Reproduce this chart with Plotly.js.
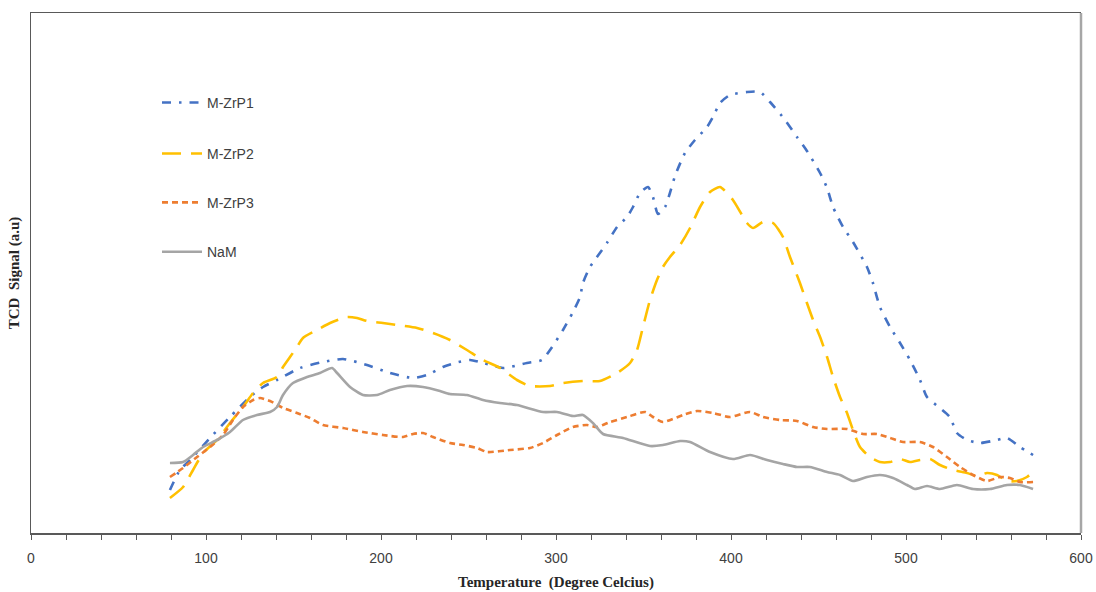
<!DOCTYPE html>
<html>
<head>
<meta charset="utf-8">
<script src="https://cdn.plot.ly/plotly-3.0.1.min.js"></script>
<style>html,body{margin:0;padding:0;background:#fff;}#chart{width:1096px;height:592px;}</style>
</head>
<body>
<div id="chart"></div>
<script>
// Temperature (°C) and TCD signal (a.u.)
const seriesNames = ["M-ZrP1", "M-ZrP2", "M-ZrP3", "NaM"];

const tempP1 = [79.4,85.1,90.9,102.3,113.7,125.1,132.6,140.6,153.7,166.9,178.3,192,205.1,218.3,226.3,235.4,242.3,250.9,258.3,269.7,283.4,292,296.6,304,309.7,313.7,315.4,319.4,323.4,329.1,334.9,340.6,344,348,352.6,355.4,358.3,362.3,365.1,368,373.7,379.4,386.3,389.7,393.7,399.4,409.1,416.6,422.3,430.9,437.7,443.4,450.9,454.9,458.3,464,469.7,477.7,481.1,485.1,490.9,496.6,502.3,508,512,519.4,525.1,529.1,534.9,542.3,552,557.7,565.1,572.6];
const signalP1 = [43,63,73,95,116,136,146,153,165,171,174,168,160,155,158,166,170,173,170,165,170,173,183,203,221,236,250,266,276,290,306,316,326,340,346,336,319,326,340,357,380,393,406,416,430,438,441,441,431,413,396,382,360,345,326,306,291,266,250,226,206,190,173,153,136,125,116,100,93,90,93,95,86,78];

const tempP2 = [79.4,86.9,92.6,98.3,106.3,113.7,121.1,126.9,132.6,140.6,144,148,152,155.4,163.4,170.9,180.6,186.3,192,201.1,209.1,220.6,229.7,239.4,249.1,258.3,268,277.7,285.1,296.6,304,315.4,325.1,334.9,342.3,346.3,349.7,353.7,357.7,361.1,365.1,370.9,376.6,382.3,388,393.7,401.1,409.1,412.6,418.3,424,429.7,433.7,439.4,443.4,446.9,450.9,454.9,458.3,462.3,466.3,469.7,473.7,479.4,485.1,490.9,496.6,502.3,508,513.7,519.4,526.9,534.9,540.6,546.3,552,557.7,563.4,569.1,572.6];
const signalP2 = [35,46,63,80,93,110,126,140,150,156,166,176,186,195,203,210,216,215,212,210,208,205,200,193,183,173,165,153,147,147,150,152,152,160,170,183,206,233,253,266,276,288,305,326,341,346,333,310,305,311,310,296,276,250,230,213,196,176,156,136,120,103,86,76,71,71,74,71,73,74,68,63,60,57,60,58,52,52,56,61];

const tempP3 = [79.4,86.9,94.9,102.3,109.7,115.4,121.1,126.9,130.9,136.6,144,152,159.4,166.9,178.3,189.7,201.1,212.6,218.3,224,229.7,239.4,246.9,254.9,260.6,273.7,285.1,292.6,300.6,309.7,317.7,323.4,330.9,340.6,350.9,355.4,361.1,372.6,380.6,389.7,399.4,410.9,418.3,428,437.7,446.9,454.9,466.3,475.4,483.4,490.9,498.3,508,515.4,523.4,530.9,538.3,546.3,553.7,559.4,565.1,572.6];
const signalP3 = [56,65,76,86,98,113,126,133,135,132,125,120,115,108,105,101,98,96,99,100,96,90,88,85,81,83,85,90,98,106,108,106,111,116,121,116,111,118,122,120,116,121,116,113,112,106,104,104,99,99,95,91,91,86,76,66,58,52,56,55,51,51];

const tempNaM = [79.4,86.9,92.6,98.3,106.3,113.7,121.1,129.1,136.6,140.6,144,149.7,157.7,165.1,172,174.9,182.3,189.7,197.7,205.1,214.9,224,233.7,239.4,249.1,258.3,268,277.7,292.6,300.6,309.7,315.4,321.1,326.9,338.3,353.7,361.1,370.9,376.6,388,401.1,410.9,420.6,429.7,437.7,445.1,454.9,462.3,469.7,477.7,485.1,492.6,500.6,505.1,512,519.4,529.1,538.3,548,557.7,565.1,572.6];
const signalNaM = [70,71,78,86,93,101,113,118,121,126,138,150,156,160,165,160,146,138,138,143,147,146,142,139,138,133,130,128,121,121,117,118,110,99,95,87,88,92,91,81,74,78,73,69,66,66,61,58,52,56,58,55,48,44,47,44,48,44,44,48,48,44];

const xTickVals = [0,100,200,300,400,500,600];
const xTickText = ["0","100","200","300","400","500","600"];

const colors = ["#4472C4", "#FFC000", "#ED7D31", "#A5A5A5"];
const dashes = ["9px,8px,2.5px,8px", "19px,10px", "6px,4px", "solid"];
const xs = [tempP1, tempP2, tempP3, tempNaM];
const ys = [signalP1, signalP2, signalP3, signalNaM];
const legendIds = ["legend", "legend2", "legend3", "legend4"];

const traces = seriesNames.map((n, i) => ({
  type: "scatter", mode: "lines", name: n,
  x: xs[i], y: ys[i],
  legend: legendIds[i],
  line: {color: colors[i], width: 2.6, dash: dashes[i], shape: "spline", smoothing: 0.6}
}));

const legendYs = [0.827, 0.729, 0.635, 0.540];
const legendBase = {
  x: 0.12, xanchor: "left", yanchor: "middle",
  bgcolor: "rgba(0,0,0,0)", borderwidth: 0,
  itemwidth: 40,
  font: {family: "Liberation Sans, Arial, sans-serif", size: 14, color: "#404040"}
};

const layout = {
  width: 1096, height: 592,
  margin: {l: 31, r: 15, t: 13, b: 59},
  paper_bgcolor: "#ffffff", plot_bgcolor: "#ffffff",
  showlegend: true,
  xaxis: {
    range: [0, 600], tickvals: xTickVals, ticktext: xTickText,
    showgrid: false, zeroline: false,
    showline: true, mirror: true, linecolor: "#595959", linewidth: 1.5,
    ticks: "outside", ticklen: 5, tickcolor: "#595959", tickwidth: 1,
    ticklabelstandoff: 7,
    minor: {dtick: 20, ticks: "outside", ticklen: 5, tickcolor: "#595959", tickwidth: 1, showgrid: false},
    tickfont: {family: "Liberation Sans, Arial, sans-serif", size: 14, color: "#404040"},
    title: {text: "Temperature  (Degree Celcius)", standoff: 11,
      font: {family: "Liberation Serif, Times New Roman, serif", size: 15, color: "#262626", weight: "bold"}}
  },
  yaxis: {
    range: [0, 520], showticklabels: false, ticks: "",
    showgrid: false, zeroline: false,
    showline: true, linecolor: "#595959", linewidth: 1.5,
    title: {text: "TCD  Signal (a.u)", standoff: 6,
      font: {family: "Liberation Serif, Times New Roman, serif", size: 15, color: "#262626", weight: "bold"}}
  },
  shapes: [
    {type: "line", xref: "paper", yref: "paper", x0: 1, x1: 1, y0: 0, y1: 1,
     line: {color: "#A6A6A6", width: 2.5}}
  ]
};
legendIds.forEach((id, i) => { layout[id] = Object.assign({}, legendBase, {y: legendYs[i]}); });

Plotly.newPlot("chart", traces, layout, {displayModeBar: false, staticPlot: true});
</script>
</body>
</html>
